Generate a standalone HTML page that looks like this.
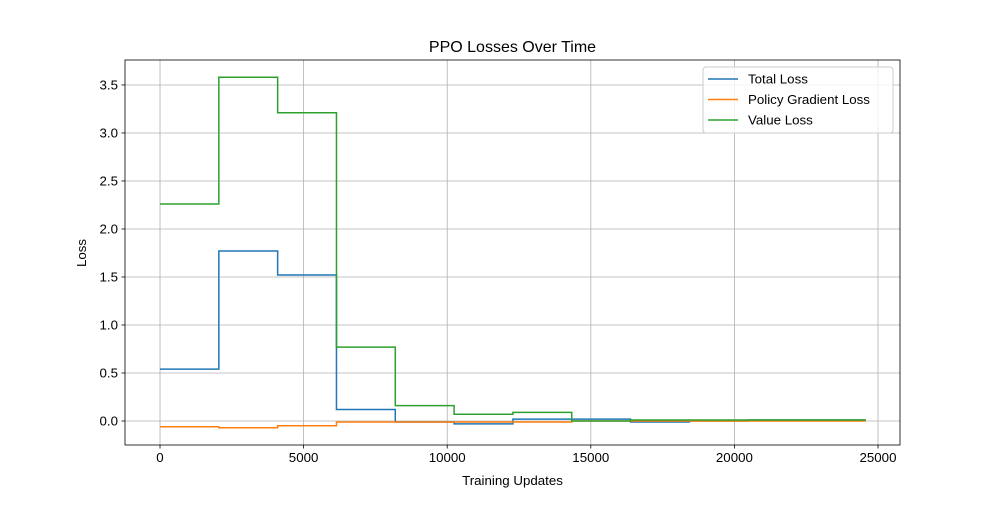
<!DOCTYPE html>
<html><head><meta charset="utf-8"><style>
body{margin:0;background:#fff;}
svg text{font-family:"Liberation Sans","DejaVu Sans",sans-serif;fill:#000;}
</style></head><body>
<svg id="chart" width="1000" height="500" viewBox="0 0 1000 500" xmlns="http://www.w3.org/2000/svg">
<rect width="1000" height="500" fill="#fff"/>
<g id="grid"></g><g id="series"></g><g id="axes"></g>
</svg>
<script>
const stepSize = 2048;
const totalLoss = [0.54, 1.77, 1.52, 0.12, -0.01, -0.03, 0.02, 0.02, -0.01, 0.0, 0.01, 0.01];
const policyLoss = [-0.06, -0.07, -0.05, -0.01, -0.01, -0.01, -0.01, 0.0, 0.0, 0.0, 0.0, 0.0];
const valueLoss = [2.26, 3.58, 3.21, 0.77, 0.16, 0.07, 0.09, 0.0, 0.01, 0.01, 0.01, 0.01];
const xTicks = [0, 5000, 10000, 15000, 20000, 25000];
const yTicks = [0.0, 0.5, 1.0, 1.5, 2.0, 2.5, 3.0, 3.5];
const seriesNames = ["Total Loss", "Policy Gradient Loss", "Value Loss"];
const colors = ["#1f77b4", "#ff7f0e", "#2ca02c"];

const L=125,R=900,T=60,B=445;
const xMin=-1219,xMax=25766,yMin=-0.25,yMax=3.76;
const X=v=>L+(v-xMin)/(xMax-xMin)*(R-L);
const Y=v=>B-(v-yMin)/(yMax-yMin)*(B-T);
const NS="http://www.w3.org/2000/svg";
function mk(tag,attrs,parent,txt){const e=document.createElementNS(NS,tag);for(const k in attrs)e.setAttribute(k,attrs[k]);if(txt!==undefined)e.textContent=txt;parent.appendChild(e);return e;}
const grid=document.getElementById('grid'),ser=document.getElementById('series'),ax=document.getElementById('axes');

xTicks.forEach(t=>{
  const g=mk('line',{x1:X(t),x2:X(t),y1:T,y2:B,stroke:'#b0b0b0','stroke-width':0.8},grid);
  
  
  mk('line',{x1:X(t),x2:X(t),y1:B,y2:B+3.5,stroke:'#000','stroke-width':0.8},ax);
  const l=mk('text',{x:X(t),y:B+17,'font-size':13.3,'text-anchor':'middle'},ax,String(t));
  
  
});
yTicks.forEach(t=>{
  const g=mk('line',{x1:L,x2:R,y1:Y(t),y2:Y(t),stroke:'#b0b0b0','stroke-width':0.8},grid);
  
  
  mk('line',{x1:L-3.5,x2:L,y1:Y(t),y2:Y(t),stroke:'#000','stroke-width':0.8},ax);
  const l=mk('text',{x:L-7,y:Y(t)+4.7,'font-size':13.3,'text-anchor':'end'},ax,t.toFixed(1));
  
  
});

[totalLoss,policyLoss,valueLoss].forEach((vals,i)=>{
  let d='';
  vals.forEach((v,j)=>{
    const x0=X(j*stepSize),x1=X((j+1)*stepSize);
    d+=(j===0?'M':'L')+x0+','+Y(v)+'L'+x1+','+Y(v);
  });
  const p=mk('path',{d:d,fill:'none',stroke:colors[i],'stroke-width':1.5},ser);
  
  
});

const frame=mk('rect',{x:L,y:T,width:R-L,height:B-T,fill:'none',stroke:'#000','stroke-width':0.8},ax);



const title=mk('text',{x:(L+R)/2,y:52,'font-size':16,'text-anchor':'middle'},ax,'PPO Losses Over Time');


const xl=mk('text',{x:(L+R)/2,y:485,'font-size':13.3,'text-anchor':'middle'},ax,'Training Updates');


const yl=mk('text',{x:0,y:0,'font-size':13.3,'text-anchor':'middle',transform:'translate(86,253) rotate(-90)'},ax,'Loss');



const lg=mk('g',{},ax);


mk('rect',{x:703,y:67,width:190,height:66,rx:3,fill:'#fff','fill-opacity':0.8,stroke:'#ccc','stroke-width':1},lg);
seriesNames.forEach((n,i)=>{
  const y=79+i*20.5;
  const e=mk('g',{},lg);
  
  
  mk('line',{x1:708,x2:738,y1:y,y2:y,stroke:colors[i],'stroke-width':1.5},e);
  mk('text',{x:748,y:y+4.7,'font-size':13.3},e,n);
});
</script>
</body></html>
